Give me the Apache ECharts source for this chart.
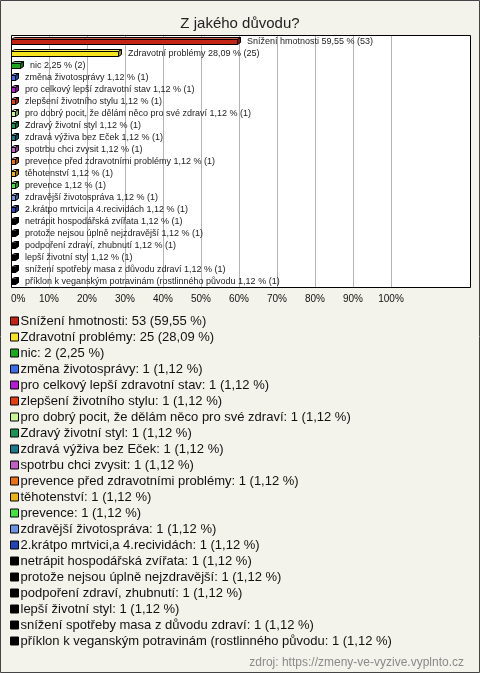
<!DOCTYPE html>
<html>
<head>
<meta charset="utf-8">
<script src="https://cdn.jsdelivr.net/npm/echarts@6/dist/echarts.min.js"></script>
<style>
  html, body { margin: 0; padding: 0; background: #f4f3eb; }
  #chart { width: 480px; height: 673px; }
</style>
</head>
<body>
<div id="chart"></div>
<script>
// ---- data ----
const categories = [
  'Snížení hmotnosti',
  'Zdravotní problémy',
  'nic',
  'změna životosprávy',
  'pro celkový lepší zdravotní stav',
  'zlepšení životního stylu',
  'pro dobrý pocit, že dělám něco pro své zdraví',
  'Zdravý životní styl',
  'zdravá výživa bez Eček',
  'spotrbu chci zvysit',
  'prevence před zdravotními problémy',
  'těhotenství',
  'prevence',
  'zdravější životospráva',
  '2.krátpo mrtvici,a 4.recividách',
  'netrápit hospodářská zvířata',
  'protože nejsou úplně nejzdravější',
  'podpoření zdraví, zhubnutí',
  'lepší životní styl',
  'snížení spotřeby masa z důvodu zdraví',
  'příklon k veganským potravinám (rostlinného původu'
];
const counts = [53, 25, 2, 1, 1, 1, 1, 1, 1, 1, 1, 1, 1, 1, 1, 1, 1, 1, 1, 1, 1];
const percents = [59.55, 28.09, 2.25, 1.12, 1.12, 1.12, 1.12, 1.12, 1.12, 1.12, 1.12, 1.12, 1.12, 1.12, 1.12, 1.12, 1.12, 1.12, 1.12, 1.12, 1.12];
const colors = [
  '#c42414', '#f6e41e', '#1caa1c', '#3a6ee6', '#b41ad2', '#e2400e',
  '#c8f696', '#1a9452', '#1a7a8c', '#c060c4', '#ea7210', '#eab414',
  '#44e23c', '#6a94e2', '#2244b4', '#000000', '#000000', '#000000',
  '#000000', '#000000', '#000000'
];
const tickValues = [0, 10, 20, 30, 40, 50, 60, 70, 80, 90, 100];
const tickLabels = ['0%', '10%', '20%', '30%', '40%', '50%', '60%', '70%', '80%', '90%', '100%'];

const FONT = '"Liberation Sans", Arial, sans-serif';
const fmt = v => v.toFixed(2).replace('.', ',');

function shade(hex, amt) {
  const n = parseInt(hex.slice(1), 16);
  let r = (n >> 16) & 255, g = (n >> 8) & 255, b = n & 255;
  const f = c => Math.max(0, Math.min(255, Math.round(amt >= 0 ? c + (255 - c) * amt : c * (1 + amt))));
  return 'rgb(' + f(r) + ',' + f(g) + ',' + f(b) + ')';
}

function renderBar(params, api) {
  const v = api.value(0), idx = api.value(1);
  const p0 = api.coord([0, idx]);
  const p1 = api.coord([v, idx]);
  const cy = Math.round(p0[1]);
  const x0 = Math.round(p0[0]) + 0.5, x1 = Math.round(p1[0]) + 0.5;
  const dx = 3, dy = 2;
  const yt = cy - 2 + 0.5, yb = cy + 3 + 0.5;
  const col = api.visual('color');
  const i = idx;
  const stroke = { stroke: '#000', lineWidth: 1 };
  return {
    type: 'group',
    children: [
      { type: 'polygon', shape: { points: [[x0, yt], [x0 + dx, yt - dy], [x1 + dx, yt - dy], [x1, yt]] },
        style: Object.assign({ fill: shade(colors[i], 0.25) }, stroke) },
      { type: 'polygon', shape: { points: [[x1, yt], [x1 + dx, yt - dy], [x1 + dx, yb - dy], [x1, yb]] },
        style: Object.assign({ fill: shade(colors[i], -0.35) }, stroke) },
      { type: 'rect', shape: { x: x0, y: yt, width: x1 - x0, height: yb - yt },
        style: Object.assign({ fill: col }, stroke) },
      { type: 'text', style: {
          x: Math.round(p1[0]) + 10, y: cy + 0.5,
          text: categories[idx] + ' ' + fmt(percents[idx]) + ' % (' + counts[idx] + ')',
          font: '9px ' + FONT, fill: '#222', verticalAlign: 'middle', align: 'left' } }
    ]
  };
}

// white plot box background
function renderPlotBox(params, api) {
  const cs = params.coordSys;
  return { type: 'rect', shape: { x: cs.x, y: cs.y, width: 459, height: cs.height },
    style: { fill: '#ffffff' } };
}

const series = [{
  name: 'plotbox',
  type: 'custom',
  renderItem: renderPlotBox,
  silent: true,
  clip: false,
  z: 0,
  data: [[0, 0]]
}, {
  name: 'gridlines',
  type: 'line',
  data: [],
  z: 2,
  silent: true,
  markLine: {
    silent: true,
    symbol: ['none', 'none'],
    label: { show: false },
    lineStyle: { color: '#b4b4b4', width: 1, type: 'solid' },
    emphasis: { disabled: true },
    data: tickValues.filter(v => v > 0).map(v => ({ xAxis: v }))
  }
}].concat(categories.map((name, i) => ({
  name: name,
  type: 'custom',
  itemStyle: { color: colors[i] },
  renderItem: renderBar,
  clip: false,
  z: 5,
  data: [[percents[i], i]]
})));

const chart = echarts.init(document.getElementById('chart'));
chart.setOption({
  backgroundColor: '#f4f3eb',
  animation: false,
  title: [
    { text: 'Z jakého důvodu?', left: 'center', top: 11,
      textStyle: { fontSize: 15, fontWeight: 'normal', color: '#222', fontFamily: FONT } },
    { text: 'zdroj: https://zmeny-ve-vyzive.vyplnto.cz', right: 11, top: 652,
      textStyle: { fontSize: 12, fontWeight: 'normal', color: '#8a8a8a', fontFamily: FONT } }
  ],
  graphic: [
    { type: 'rect', shape: { x: 11.5, y: 35.5, width: 459, height: 252 },
      style: { fill: null, stroke: '#000', lineWidth: 1 }, z: 50 },
    { type: 'rect', shape: { x: 0.5, y: 0.5, width: 479, height: 672 },
      style: { fill: null, stroke: '#444', lineWidth: 1 }, z: 100 }
  ],
  legend: {
    orient: 'vertical',
    left: 10, top: 313, padding: 0,
    itemWidth: 8, itemHeight: 8, itemGap: 0,
    icon: 'rect',
    selectedMode: false,
    itemStyle: { borderColor: '#000', borderWidth: 1 },
    textStyle: { fontSize: 13, lineHeight: 16, color: '#111', fontFamily: FONT, padding: [0, 0, 0, -3] },
    formatter: name => {
      const i = categories.indexOf(name);
      return name + ': ' + counts[i] + ' (' + fmt(percents[i]) + ' %)';
    },
    data: categories
  },
  grid: { left: 11, top: 35, width: 380, height: 252, show: false },
  xAxis: {
    type: 'value', min: 0, max: 100, interval: 10,
    axisLine: { show: false }, axisTick: { show: false },
    splitLine: { show: false },
    axisLabel: { margin: 7, fontSize: 10, color: '#111', fontFamily: FONT,
      alignMinLabel: 'left',
      formatter: v => tickLabels[tickValues.indexOf(Math.round(v))] }
  },
  yAxis: { type: 'category', data: categories, inverse: true, show: false },
  series: series
});
</script>
</body>
</html>
